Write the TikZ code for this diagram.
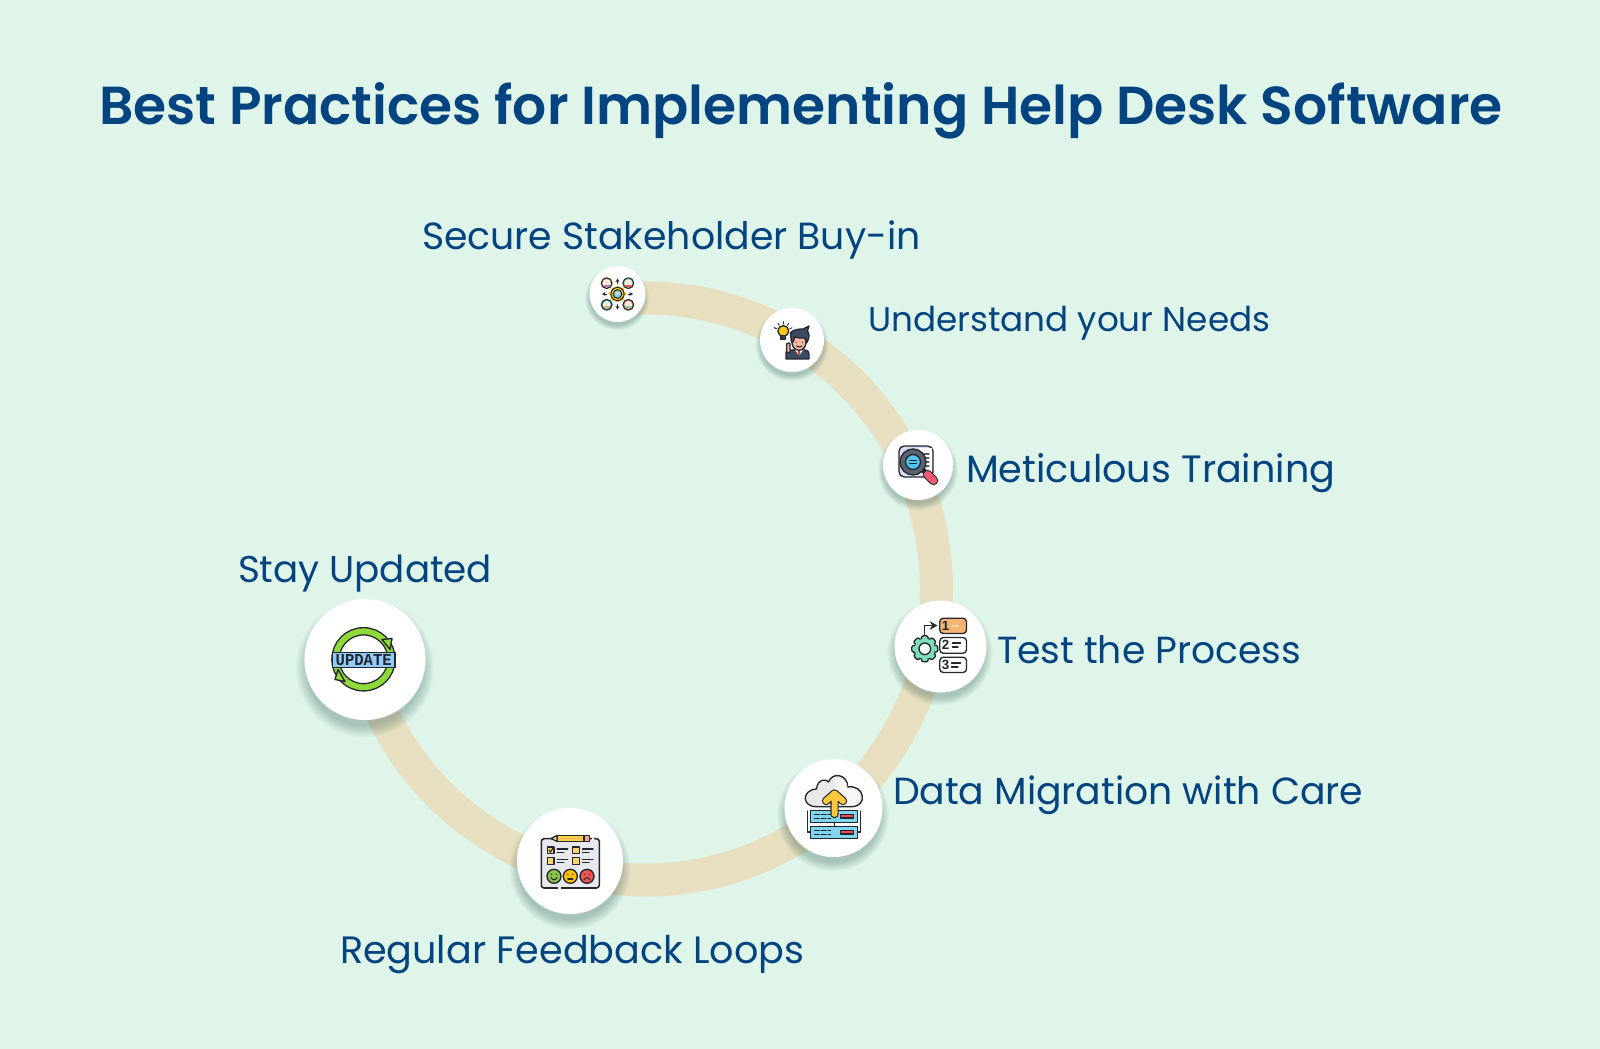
\documentclass[tikz,border=0pt]{standalone}
\usepackage{fontspec}
\usepackage{graphicx}
\usetikzlibrary{arrows.meta}
\setmainfont{Poppins}
\newfontfamily\titlefont{Poppins SemiBold}
\newfontfamily\iconfont{Liberation Sans}[BoldFont={Liberation Sans Bold}]
\newfontfamily\updfont{Liberation Mono}[BoldFont={Liberation Mono Bold}]
\definecolor{bgc}{HTML}{E0F5E9}
\definecolor{ringc}{HTML}{E8DFC0}
\definecolor{navy}{HTML}{03437F}
\definecolor{ink}{HTML}{23272E}
\definecolor{shadowc}{HTML}{2F5F55}
\newcommand{\hx}[1]{\definecolor{#1}{HTML}{#1}}
\hx{F9D9C0}\hx{FFC917}\hx{35465C}\hx{D9433B}\hx{F8B9A0}\hx{3A4B63}\hx{D9DDF3}\hx{F05A73}
\hx{5A636E}\hx{4EC4EE}\hx{F4B574}\hx{7FDDBB}\hx{E9E9EA}\hx{82D5EE}\hx{EE4D55}\hx{FFC83D}
\hx{E6E8EC}\hx{FFD23F}\hx{F3A39B}\hx{F6D9B5}\hx{FBD46D}\hx{8FD93B}\hx{90CCF7}
\tikzset{
  ol/.style={draw=ink,line width=0.38pt,line join=round,line cap=round},
  thinl/.style={draw=ink,line width=0.3pt,line cap=round},
  disc/.style={circle,fill=white,inner sep=0pt,outer sep=0pt,minimum size=#1*0.02cm},
  label/.style={anchor=base west,text=navy,inner sep=0pt,outer sep=0pt},
  icontext/.style={text=ink,inner sep=0pt,outer sep=0pt,font=\iconfont\bfseries}
}
\newcommand{\softshadow}[3]{%
  \foreach \k in {1.14,1.12,1.10,1.08,1.06,1.04,1.02,1.00,0.98,0.96}{%
    \fill[shadowc,opacity=0.035] (#1,#2+#3*0.15) circle[radius=#3*\k];}%
}
\newcommand{\fitlabel}[2]{\resizebox{#1cm}{!}{#2}}
\begin{document}
\begin{tikzpicture}[x=0.01cm,y=-0.01cm]
\useasboundingbox (0,0) rectangle (1600,1049);
\fill[bgc] (0,0) rectangle (1600,1049);
% ring
\coordinate (ringstart) at ({645.5+291*cos(-95.5)},{589+291*sin(-95.5)});
\draw[ringc,line width=33*0.01cm] (ringstart) arc[start angle=-95.5,end angle=166,radius=291];
% shadows
\softshadow{617}{294}{28}
\softshadow{792}{340}{32}
\softshadow{918}{465}{35}
\softshadow{940}{646}{46}
\softshadow{833}{808}{49}
\softshadow{570}{861}{53}
\softshadow{365}{659}{60.5}
% discs
\node[disc=28]   (n1) at (617.5,294) {};
\node[disc=32]   (n2) at (792,340) {};
\node[disc=35]   (n3) at (918,465) {};
\node[disc=46]   (n4) at (940.5,646.5) {};
\node[disc=49]   (n5) at (833.5,808) {};
\node[disc=53]   (n6) at (570,861) {};
\node[disc=60.5] (n7) at (365,659.5) {};
% title and labels
\node[label] (title) at (99,124.5) {\fitlabel{14.03}{\titlefont Best Practices for Implementing Help Desk Software}};
\node[label] (l1) at (422,250) {\fitlabel{4.985}{Secure Stakeholder Buy-in}};
\node[label] (l2) at (868,331.5) {\fitlabel{4.02}{Understand your Needs}};
\node[label] (l3) at (966,482.6) {\fitlabel{3.69}{Meticulous Training}};
\node[label] (l4) at (997,663) {\fitlabel{3.04}{Test the Process}};
\node[label] (l5) at (893,804) {\fitlabel{4.70}{Data Migration with Care}};
\node[label] (l6) at (340,963) {\fitlabel{4.64}{Regular Feedback Loops}};
\node[label] (l7) at (238,582) {\fitlabel{2.54}{Stay Updated}};
% icon 1: stakeholders
\begin{scope}[shift={(617.5,294)}]
  \foreach \px/\py/\ca/\cb in {-10.8/-10.8/F2A65A/B06FC4, 10.8/-10.8/7ED08A/E2574C, -10.8/10.8/38AEDB/F2A65A, 10.8/10.8/EC6A5E/7ED08A}{
    \definecolor{ca}{HTML}{\ca}\definecolor{cb}{HTML}{\cb}
    \filldraw[ol,line width=0.3pt,fill=ca] (\px,\py) circle[radius=5.4];
    \fill[white] (\px,\py) circle[radius=3.8];
    \fill[cb] (\px-3.2,\py+3.4) rectangle (\px+3.2,\py+1.4);
    \fill[F9D9C0] (\px,\py-0.8) circle[radius=1.9];
  }
  \foreach \a in {0,45,...,315}{\fill[FFC917,rotate=\a] (-1.5,-8.2) rectangle (1.5,-6);}
  \filldraw[ol,line width=0.3pt,fill=FFC917] (0,0) circle[radius=6.6];
  \filldraw[thinl,fill=82D5EE] (0,0) circle[radius=4.3];
  \fill[F9D9C0] (0,-0.6) circle[radius=1.8];
  \foreach \a in {0,90,180,270}{\draw[thinl,line width=0.22pt,-{Stealth[length=1pt,width=1.1pt]},rotate=\a] (0,-10.5) -- (0,-15.5);}
\end{scope}
% icon 2: idea person
\begin{scope}[shift={(792,340)}]
  \foreach \a in {-160,-125,-90,-55,-20,200}{\draw[thinl,line width=0.24pt] (-8.7,-9)++(\a:7) -- ++(\a:2.4);}
  \filldraw[ol,fill=FFC917] (-8.7,-9) circle[radius=5.4];
  \filldraw[ol,fill=35465C] (-11,-4.4) rectangle (-6.4,-0.7);
  \filldraw[ol,fill=3A4B63] (-6,19) -- (-6,12) .. controls (-5,10.5) and (-2,10) .. (1,10) -- (13,10) .. controls (15.5,10) and (17,11.5) .. (17,14) -- (17,19) -- cycle;
  \fill[white] (3,10) -- (11,10) -- (7,15.5) -- cycle;
  \fill[D9433B] (6,10.5) rectangle (8,15);
  \filldraw[ol,fill=F8B9A0] (-5.3,12.5) -- (-5.3,4) -- (-3.2,3) -- (-2,4) -- (-2,12.5) -- cycle;
  \filldraw[ol,fill=F8B9A0] (7,2.5) ellipse[x radius=7,y radius=7.8];
  \filldraw[ol,fill=3A4B63] (-0.5,2.5) -- (-1.6,-7) .. controls (1,-11) and (9,-11) .. (11,-11) -- (17,-14) -- (15.5,-9.5) -- (17,-5) .. controls (17,-1) and (15.5,1) .. (14.5,3) -- (13,-2) .. controls (9,-2) and (5,-2) .. (2.5,-3) -- (1.5,1.5) -- cycle;
  \fill[ink] (4,2.6) circle[radius=0.6] (10.3,2.6) circle[radius=0.6];
  \draw[thinl] (4.5,6) .. controls (6,7.5) and (8.5,7.5) .. (10,6);
\end{scope}
% icon 3: magnifier on document
\begin{scope}[shift={(918,465)}]
  \filldraw[ol,fill=D9DDF3,rounded corners=1.5] (-19,-19) rectangle (15,12);
  \fill[white] (1,-17) rectangle (13.5,10);
  \foreach \yy in {-11,-7,-3,1}{\draw[thinl,draw=ink!75] (5,\yy) -- (11,\yy);}
  \draw[ol,line width=1.5pt,draw=ink] (4,4) -- (9,9);
  \draw[ink,line width=2.7pt,line cap=round] (9.5,9.5) -- (15.5,15.5);
  \draw[F05A73,line width=2.05pt,line cap=round] (9.5,9.5) -- (15.5,15.5);
  \filldraw[ol,fill=5A636E] (-5,-3) circle[radius=13];
  \filldraw[ol,fill=4EC4EE] (-5,-3) circle[radius=7.5];
  \draw[thinl] (-8.5,-4.3) -- (-1.5,-4.3) (-8.5,-1.7) -- (-1.5,-1.7);
\end{scope}
% icon 4: process
\begin{scope}[shift={(940.5,646.5)}]
  \filldraw[ol,fill=F4B574,rounded corners=1] (-0.7,-28.3) rectangle (26,-13);
  \filldraw[ol,fill=white,rounded corners=1] (-0.7,-9) rectangle (26,6.7);
  \filldraw[ol,fill=white,rounded corners=1] (-0.7,10.7) rectangle (26,26);
  \node[icontext,font=\iconfont\bfseries\fontsize{3.8pt}{4pt}\selectfont] (p1) at (5,-20.5) {1};
  \node[icontext,font=\iconfont\bfseries\fontsize{3.8pt}{4pt}\selectfont] (p2) at (5,-1.2) {2};
  \node[icontext,font=\iconfont\bfseries\fontsize{3.8pt}{4pt}\selectfont] (p3) at (5,18.4) {3};
  \fill[white] (11,-21.5) rectangle (13,-19.8) (15,-21.5) rectangle (17,-19.8);
  \draw[ol] (12,-3.5) -- (20,-3.5) (12,0.5) -- (17.5,0.5);
  \draw[ol] (11,16.5) -- (20,16.5) (11,20.5) -- (17.5,20.5);
  \draw[ol,-{Stealth[length=2.2pt,width=2.4pt]}] (-15.7,-10) -- (-15.7,-21) -- (-3,-21);
  \begin{scope}[shift={(-15.7,2.3)}]
    \foreach \a in {0,45,...,315}{\filldraw[ol,fill=7FDDBB,rotate=\a,rounded corners=0.6] (-3.4,-13) rectangle (3.4,-8);}
    \fill[7FDDBB] (0,0) circle[radius=10.2];
    \filldraw[ol,fill=white] (0,0) circle[radius=5.8];
  \end{scope}
\end{scope}
% icon 5: cloud upload
\begin{scope}[shift={(833.5,808)}]
  \filldraw[ol,fill=E9E9EA] (-17,-1.3) .. controls (-32,-1.3) and (-32,-18) .. (-17,-19)
     .. controls (-16,-30) and (-6,-29) .. (-5,-26)
     .. controls (-1,-37) and (15,-33) .. (14,-21)
     .. controls (31,-24) and (35,-1.3) .. (18,-1.3) -- cycle;
  \fill[white,opacity=0.6] (1,-30) -- (1,-3) -- (17,-3) .. controls (31,-3) and (29,-22) .. (14,-19.5) .. controls (14.5,-27) and (8,-31) .. (1,-30) -- cycle;
  \draw[ol] (-26,3) -- (-26,24) -- (-23,24) (27,3) -- (27,24) -- (24,24);
  \filldraw[ol,fill=82D5EE] (-23,2.7) rectangle (24,14.3);
  \filldraw[ol,fill=82D5EE] (-23,18.7) rectangle (24,30.3);
  \draw[ol] (1,14.3) -- (1,18.7);
  \foreach \yy in {6.5,10.5,22.5,26.5}{\draw[thinl,dash pattern=on 1.4pt off 0.5pt] (-19,\yy) -- (-3,\yy);}
  \filldraw[thinl,fill=EE4D55] (7,6.5) rectangle (20,10);
  \filldraw[thinl,fill=EE4D55] (7,22.5) rectangle (20,26);
  \draw[ink,line width=8.4*0.01cm,line cap=round,line join=round] (1,6) -- (1,-14) (-7.5,-7) -- (1,-14.5) -- (9.5,-7);
  \draw[FFC83D,line width=6*0.01cm,line cap=round,line join=round] (1,6) -- (1,-14) (-7.5,-7) -- (1,-14.5) -- (9.5,-7);
\end{scope}
% icon 6: feedback
\begin{scope}[shift={(570,861)}]
  \filldraw[ol,line width=0.45pt,fill=E6E8EC,rounded corners=0.8] (-28.7,-22.3) rectangle (29.3,27);
  \fill[white] (-12,26) rectangle (-9,28);
  \fill[white] (22,-23.5) rectangle (24,-21);
  \filldraw[ol,fill=FFD23F] (-13,-25.5) rectangle (14,-19.5);
  \draw[thinl,draw=F4B574] (-12,-22.5) -- (13,-22.5);
  \filldraw[ol,fill=F3A39B] (14,-25.5) rectangle (19.3,-19.5);
  \filldraw[ol,fill=F6D9B5] (-13,-25.5) -- (-19,-22.5) -- (-13,-19.5) -- cycle;
  \foreach \bx/\by in {-19.3/-10.6,6/-10.6,-19.3/0,6/0}{
    \filldraw[ol,fill=FBD46D] (\bx-3.3,\by-3.3) rectangle (\bx+3.3,\by+3.3);
    \draw[ol] (\bx+6.5,\by-1.5) -- (\bx+17,\by-1.5) (\bx+6.5,\by+1.8) -- (\bx+13,\by+1.8);
  }
  \draw[thinl] (-21,-11) -- (-19.5,-9) -- (-17,-13);
  \foreach \fx/\fc in {-16/8BC34A,0.3/FFC107,17/EF5350}{
    \definecolor{facec}{HTML}{\fc}
    \filldraw[ol,fill=facec] (\fx,15.3) circle[radius=7];
    \fill[ink] (\fx-2.5,13.3) circle[radius=0.7] (\fx+2.5,13.3) circle[radius=0.7];
  }
  \draw[thinl] (-19,16.5) .. controls (-17.5,19.5) and (-14.5,19.5) .. (-13,16.5);
  \draw[thinl] (-2.2,18) -- (2.8,18);
  \draw[thinl] (14,19) .. controls (15.5,16) and (18.5,16) .. (20,19);
\end{scope}
% icon 7: update
\begin{scope}[shift={(365,659.5)}]
  \draw[ink,line width=8.6*0.01cm] (-1.5,-0.2) circle[radius=28];
  \draw[8FD93B,line width=5.8*0.01cm] (-1.5,-0.2) circle[radius=28];
  \filldraw[ol,fill=8FD93B] (17,-20) -- (27,-21) -- (25,-10) -- cycle;
  \filldraw[ol,fill=8FD93B] (-20,22) -- (-30,20) -- (-27,10) -- cycle;
  \filldraw[ol,line width=0.45pt,fill=90CCF7] (-32.7,-7) rectangle (30,8);
  \node[icontext] (upd) at (-1.3,0.6) {\resizebox{0.56cm}{0.11cm}{\updfont\bfseries UPDATE}};
\end{scope}
\end{tikzpicture}
\end{document}
